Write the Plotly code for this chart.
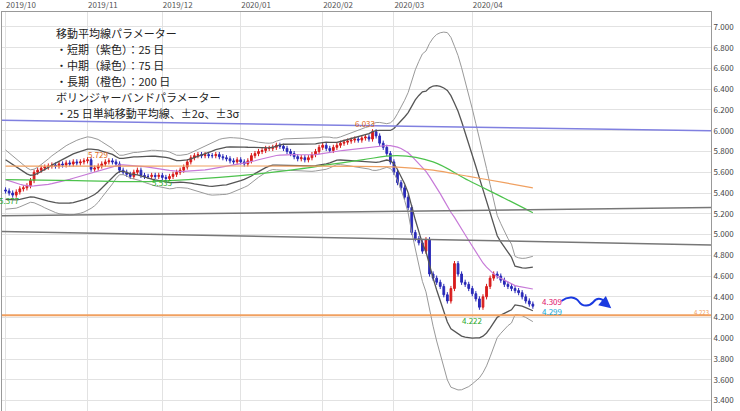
import numpy as np
import pandas as pd
import plotly.graph_objects as go

prehist = [5.74,5.72,5.70,5.68,5.66,5.65,5.62,5.60,5.58,5.56,5.55,5.54,5.52,5.50,5.49,5.48,5.47,5.46,5.45,5.44,5.44,5.43,5.43,5.42,5.43]
closes_oct = [5.42,5.40,5.38,5.41,5.44,5.45,5.47,5.52,5.60,5.62,5.64,5.65,5.66,5.67,5.66,5.68,5.67,5.69,5.68,5.70,5.69,5.70,5.71]
closes_nov = [5.72,5.63,5.64,5.66,5.68,5.70,5.71,5.70,5.68,5.62,5.60,5.58,5.56,5.60,5.62,5.57,5.56,5.56,5.57,5.56,5.57]
closes_dec = [5.55,5.54,5.56,5.58,5.60,5.62,5.65,5.70,5.74,5.76,5.77,5.76,5.77,5.76,5.76,5.77,5.75,5.74,5.73,5.71,5.70,5.72]
closes_jan = [5.70,5.68,5.71,5.76,5.78,5.80,5.81,5.83,5.83,5.84,5.86,5.85,5.83,5.80,5.78,5.75,5.73,5.74,5.72,5.74,5.77,5.80,5.84]
closes_feb = [5.86,5.83,5.81,5.84,5.86,5.88,5.89,5.90,5.91,5.92,5.91,5.93,5.94,5.92,5.99,5.95,5.88,5.84,5.78,5.70]
closes_mar = [5.60,5.50,5.45,5.36,5.26,5.02,4.96,4.92,4.84,4.95,4.62,4.58,4.54,4.50,4.42,4.36,4.48,4.72,4.62,4.54,4.52,4.48]
closes_apr = [4.43,4.38,4.30,4.40,4.50,4.58,4.62,4.60,4.56,4.52,4.50,4.48,4.46,4.44,4.40,4.36,4.33,4.31]

ma75_idx = [0,20,40,60,80,100,110,120,130,140,148]
ma75_val = [5.53,5.52,5.51,5.55,5.62,5.72,5.76,5.70,5.52,5.35,5.21]
ma200_idx = [0,40,80,110,120,130,140,148]
ma200_val = [5.66,5.66,5.66,5.65,5.62,5.56,5.50,5.45]

month_ticks = ["2019/10","2019/11","2019/12","2020/01","2020/02","2020/03","2020/04"]
month_counts = [len(closes_oct),len(closes_nov),len(closes_dec),len(closes_jan),len(closes_feb),len(closes_mar),len(closes_apr)]

closes = closes_oct+closes_nov+closes_dec+closes_jan+closes_feb+closes_mar+closes_apr
allc = pd.Series(prehist+closes)
n = len(closes)
idx = np.arange(n)
opens = [prehist[-1]] + closes[:-1]
highs = [max(o,c)+0.025 for o,c in zip(opens,closes)]
lows = [min(o,c)-0.025 for o,c in zip(opens,closes)]

ma25 = allc.rolling(25).mean().iloc[-n:].values
sd = allc.rolling(25).std(ddof=0).iloc[-n:].values

fig = go.Figure()
for k,w in [(2,1.3),(-2,1.3),(3,1),(-3,1)]:
    fig.add_trace(go.Scatter(x=idx,y=ma25+k*sd,mode="lines",line=dict(color="#555" if abs(k)==2 else "#999",width=w),hoverinfo="skip"))
fig.add_trace(go.Scatter(x=idx,y=ma25,mode="lines",line=dict(color="#c77ad8",width=1.2)))
fig.add_trace(go.Scatter(x=ma75_idx,y=ma75_val,mode="lines",line=dict(color="#4cc24c",width=1.2,shape="spline")))
fig.add_trace(go.Scatter(x=ma200_idx,y=ma200_val,mode="lines",line=dict(color="#f0a060",width=1.2,shape="spline")))
fig.add_trace(go.Candlestick(x=idx,open=opens,high=highs,low=lows,close=closes,
    increasing=dict(line=dict(color="#d81c1c",width=1),fillcolor="#d81c1c"),
    decreasing=dict(line=dict(color="#2a2ab8",width=1),fillcolor="#2a2ab8"),whiskerwidth=0))

X0,X1 = -1,198
fig.add_shape(type="line",x0=X0,x1=X1,y0=6.10,y1=6.00,line=dict(color="#8080e0",width=1.5))
fig.add_shape(type="line",x0=X0,x1=X1,y0=5.18,y1=5.26,line=dict(color="#777",width=1.5))
fig.add_shape(type="line",x0=X0,x1=X1,y0=5.03,y1=4.90,line=dict(color="#777",width=1.5))
fig.add_shape(type="line",x0=X0,x1=X1,y0=4.223,y1=4.223,line=dict(color="#f0a060",width=2))
fig.add_shape(type="path",path="M 156,4.36 C 158,4.41 160,4.40 161,4.35 C 162,4.30 164,4.31 165,4.35 C 166,4.40 168,4.39 169,4.31",
              line=dict(color="#1a3ae0",width=2))
fig.add_annotation(x=170,y=4.29,ax=168.6,ay=4.33,xref="x",yref="y",axref="x",ayref="y",text="",showarrow=True,
                   arrowhead=2,arrowsize=1.2,arrowwidth=2,arrowcolor="#1a3ae0")

def lab(x,y,t,c,sz=8):
    fig.add_annotation(x=x,y=y,text=t,showarrow=False,font=dict(size=sz,color=c),xanchor="center")
lab(1,5.33,"5.377","#2aa82a")
lab(26,5.77,"5.729","#e06a20")
lab(44,5.50,"5.535","#2aa82a")
lab(101,6.07,"6.033","#e06a20")
lab(131,4.17,"4.222","#2aa82a")
fig.add_annotation(x=150,y=4.355,text="4.309",showarrow=False,font=dict(size=8,color="#e0106a"),xanchor="left")
fig.add_annotation(x=150,y=4.26,text="4.299",showarrow=False,font=dict(size=8,color="#10a8d8"),xanchor="left")
fig.add_annotation(x=X1,y=4.25,text="4.223",showarrow=False,font=dict(size=6,color="#f0a060"),xanchor="right")

lines = ["移動平均線パラメーター","・短期（紫色）：25 日","・中期（緑色）：75 日","・長期（橙色）：200 日","ボリンジャーバンドパラメーター","・25 日単純移動平均線、±2σ、±3σ"]
for i,t in enumerate(lines):
    fig.add_annotation(xref="paper",yref="paper",x=0.074,y=1-(33+16*i-12)/399,text=t,showarrow=False,
                       xanchor="left",yanchor="middle",font=dict(size=11,color="#222"))

tickpos = list(np.cumsum([0]+month_counts[:-1]))
fig.update_layout(width=740,height=411,margin=dict(l=2,r=29,t=12,b=0,autoexpand=False),plot_bgcolor="white",paper_bgcolor="white",
    showlegend=False,font=dict(family="Noto Sans CJK JP"),
    xaxis=dict(range=[X0,X1],tickvals=tickpos,ticktext=month_ticks,side="top",showgrid=True,gridcolor="#e2e2e2",automargin=False,
               rangeslider=dict(visible=False),tickfont=dict(size=8,color="#555"),ticks="",ticklabelposition="outside right",
               showline=True,linecolor="#999",mirror=True,zeroline=False),
    yaxis=dict(range=[3.30,7.144],side="right",tickvals=[3.4+0.2*i for i in range(19)],tickformat=".3f",automargin=False,
               showgrid=True,gridcolor="#e2e2e2",tickfont=dict(size=8,color="#444"),showline=True,linecolor="#999",mirror=True,zeroline=False))
fig.write_html("out.html", config={"displayModeBar": False})
with open("out.html", encoding="utf-8") as f:
    html = f.read()
html = html.replace("<head>", "<head><style>html,body{margin:0;padding:0;overflow:hidden}</style>", 1)
with open("out.html", "w", encoding="utf-8") as f:
    f.write(html)
